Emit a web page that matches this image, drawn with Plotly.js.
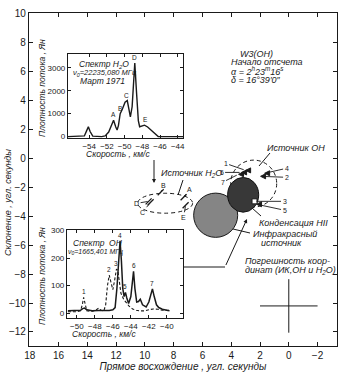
<!DOCTYPE html>
<html><head><meta charset="utf-8">
<script src="https://cdn.plot.ly/plotly-3.0.1.min.js"></script>
<style>html,body{margin:0;padding:0;background:#fff}#c{width:355px;height:376px}</style>
</head><body><div id="c"></div>
<script>
// ---- H2O spectrum (inset 1) ----
const h2oVel  = [-56.4,-55.0,-54.55,-54.3,-54.1,-53.9,-53.6,-52.6,-52.2,-51.8,-51.5,-51.25,-51.0,-50.85,-50.7,-50.5,-50.25,-49.95,-49.7,-49.5,-49.35,-49.15,-48.85,-48.65,-48.45,-48.3,-48.0,-47.75,-47.4,-47.0,-46.6,-46.2,-45.0,-43.4];
const h2oFlux = [0,0,30,250,430,220,20,0,30,200,520,710,420,290,480,1000,1200,1500,1570,1150,860,1300,3210,1900,700,430,480,500,420,270,110,0,0,0];
const h2oPeakLabels = ["A","B","C","D","E"];
const h2oPeakVel    = [-51.25,-50.55,-49.75,-48.85,-47.6];
const h2oPeakFlux   = [710,1000,1570,3210,500];

// ---- OH spectrum (inset 2) ----
const ohSolidVel  = [-51.0,-50.3,-49.6,-49.35,-49.15,-48.9,-48.3,-47.6,-47.0,-46.4,-46.0,-45.75,-45.55,-45.35,-45.2,-45.05,-44.9,-44.75,-44.6,-44.45,-44.25,-44.0,-43.85,-43.7,-43.55,-43.35,-43.15,-42.95,-42.7,-42.3,-42.0,-41.8,-41.6,-41.4,-41.15,-40.9,-40.5,-40.0,-39.7];
const ohSolidFlux = [8,9,10,16,18,12,8,9,8,9,12,20,90,200,263,190,90,60,75,55,35,60,120,152,90,40,42,50,30,22,40,70,88,60,30,20,14,10,8];
const ohDashVel   = [-51.0,-50.0,-49.6,-49.4,-49.25,-49.1,-48.9,-48.4,-47.9,-47.6,-47.3,-47.0,-46.8,-46.6,-46.4,-46.2,-46.0,-45.8,-45.6,-45.45,-45.3,-45.1,-44.8,-44.5,-44.2,-43.8,-43.4,-43.0,-42.5,-42.0,-41.5,-41.0,-40.5,-40.0,-39.7];
const ohDashFlux  = [5,5,8,30,57,30,8,6,10,18,10,8,30,100,138,110,85,120,160,155,110,72,50,38,25,15,10,8,8,12,15,14,10,10,10];
const ohPeakLabels = ["1","2","3","4","5","6","7"];
const ohPeakVel    = [-49.25,-46.4,-45.65,-45.2,-44.6,-43.7,-41.6];
const ohPeakFlux   = [57,138,160,263,75,152,88];

// ---- Map (main axes): maser spots, arcsec ----
const ohSpotNames = ["1","6","7","4","2","3","5"];
const ohSpotRA    = [3.0,3.28,3.49,1.68,1.96,2.38,2.24];
const ohSpotDec   = [-0.83,-0.97,-1.10,-1.03,-1.24,-2.97,-3.17];
const h2oSpotNames = ["A","B","C","D","E"];
const h2oSpotRA    = [7.31,8.90,9.60,9.74,7.17];
const h2oSpotDec   = [-2.69,-2.34,-3.03,-2.97,-3.24];
// sources: [RA centre, Dec centre, radius RA, radius Dec]
const ohSource   = [2.44,-1.74,1.6,1.62];
const h2oSource  = [8.59,-3.10,1.91,0.69];
const irSource   = [5.08,-3.93,1.53,1.53];
const hiiSource  = [3.17,-2.52,1.08,1.2];
// error of coordinates
const errCentre = [0,-10.2];
const errRA = 2.0, errDec = 1.85;

const xTicksMain = [18,16,14,12,10,8,6,4,2,0,-2];
const yTicksMain = [10,8,6,4,2,0,-2,-4,-6,-8,-10,-12];

// ---------- layout helpers ----------
const W=355,H=376,L=29,R=18,T=13,B=30;
const PX = x => (x-L)/(W-L-R);
const PY = y => (H-B-y)/(H-T-B);
const FF = '"Liberation Sans", Arial, sans-serif';
const ink = '#1a1a1a';

const traces = [
  {x:h2oVel,y:h2oFlux,xaxis:'x2',yaxis:'y2',mode:'lines',line:{color:ink,width:1.4},hoverinfo:'skip'},
  {x:ohDashVel,y:ohDashFlux,xaxis:'x3',yaxis:'y3',mode:'lines',line:{color:ink,width:1.1,dash:'3px,2px'},hoverinfo:'skip'},
  {x:ohSolidVel,y:ohSolidFlux,xaxis:'x3',yaxis:'y3',mode:'lines',line:{color:ink,width:1.5},hoverinfo:'skip'},
  {x:ohSpotRA,y:ohSpotDec,mode:'markers',marker:{symbol:ohSpotNames.map(n=>n==='3'?'square':'arrow-left'),size:5,color:ohSpotNames.map(n=>n==='3'?'#fff':ink),line:{color:ink,width:1}},hoverinfo:'skip'},
  {x:h2oSpotRA,y:h2oSpotDec,mode:'markers',marker:{symbol:'line-ne',size:6,line:{color:ink,width:1.3}},hoverinfo:'skip'},
  {x:[errCentre[0]],y:[errCentre[1]],mode:'markers',marker:{size:1,color:'rgba(0,0,0,0)'},
   error_x:{type:'data',array:[errRA],color:ink,thickness:1,width:0},
   error_y:{type:'data',array:[errDec],color:ink,thickness:1,width:0},hoverinfo:'skip'}
];

function ell(s,extra){return Object.assign({type:'circle',xref:'x',yref:'y',x0:s[0]+s[2],x1:s[0]-s[2],y0:s[1]-s[3],y1:s[1]+s[3],layer:'below'},extra);}
const shapes = [
  ell(ohSource,{line:{color:ink,width:1,dash:'4px,3px'}}),
  ell(h2oSource,{line:{color:ink,width:1,dash:'4px,3px'}}),
  ell(irSource,{fillcolor:'#858585',line:{color:ink,width:1}}),
  ell(hiiSource,{fillcolor:'#383838',line:{color:'#111',width:1}}),
  // connector from OH spectrum
  {type:'path',xref:'paper',yref:'paper',path:`M${PX(183)},${PY(267)} L${PX(225)},${PY(267)}`,line:{color:ink,width:1}},
  // leader lines
  {type:'line',xref:'paper',yref:'paper',x0:PX(183),y0:PY(180),x1:PX(178),y1:PY(195),line:{color:ink,width:1}},
  {type:'line',xref:'paper',yref:'paper',x0:PX(270),y0:PY(153),x1:PX(259),y1:PY(166),line:{color:ink,width:1}},
  {type:'line',xref:'paper',yref:'paper',x0:PX(261),y0:PY(216),x1:PX(252),y1:PY(208),line:{color:ink,width:1}},
  {type:'line',xref:'paper',yref:'paper',x0:PX(250),y0:PY(233),x1:PX(233),y1:PY(229),line:{color:ink,width:1}},
];

const ann = [];
function txt(t,x,y,o){ann.push(Object.assign({text:t,x:PX(x),y:PY(y),xref:'paper',yref:'paper',showarrow:false,xanchor:'left',yanchor:'middle',font:{family:FF,size:9,color:ink}},o||{}));}
function it(s){return '<i>'+s+'</i>';}
// main texts
txt(it('W3(OH)'),256,54,{xanchor:'center'});
txt(it('Начало отсчета'),229,62);
txt(it('α = 2<sup>h</sup>23<sup>m</sup>16<sup>s</sup>'),229,71);
txt(it('δ = 16°39′0″'),229,80);
txt(it('Источник OH'),265,148);
txt(it('Источник H<sub>2</sub>O'),159,173);
txt(it('Конденсация HII'),257,223);
txt(it('Инфракрасный'),251,234);
txt(it('источник'),259,243);
txt(it('Погрешность коор-'),243,261);
txt(it('динат (ИК,OH и H<sub>2</sub>O)'),243,270);
// inset texts
txt(it('Спектр H<sub>2</sub>O'),77,64,{font:{family:FF,size:8.5,color:ink}});
txt(it('ν<sub>0</sub>=22235,080 МГц'),71,73,{font:{family:FF,size:7.5,color:ink}});
txt(it('Март 1971'),78,81,{font:{family:FF,size:8.5,color:ink}});
txt(it('Спектр  OH'),71,243,{font:{family:FF,size:8.5,color:ink}});
txt(it('ν<sub>0</sub>=1665,401 МГц'),66,252,{font:{family:FF,size:7,color:ink}});
txt(it('Скорость , км/с'),118,154,{xanchor:'center',font:{family:FF,size:8.5,color:ink}});
txt(it('Скорость , км/с'),104,334,{xanchor:'center',font:{family:FF,size:8.5,color:ink}});
txt(it('Плотность потока , Ян'),42,88,{xanchor:'center',textangle:-90,font:{family:FF,size:8.5,color:ink}});
txt(it('Плотность потока , Ян'),42,276,{xanchor:'center',textangle:-90,font:{family:FF,size:8.5,color:ink}});
txt(it('Склонение , угл. секунды'),8,203,{xanchor:'center',textangle:-90});
// spectrum peak labels
h2oPeakLabels.forEach((t,i)=>ann.push({text:t,x:h2oPeakVel[i],y:h2oPeakFlux[i],xref:'x2',yref:'y2',showarrow:false,yanchor:'bottom',font:{family:FF,size:6.5,color:ink}}));
ohPeakLabels.forEach((t,i)=>ann.push({text:t,x:ohPeakVel[i],y:ohPeakFlux[i],xref:'x3',yref:'y3',showarrow:false,yanchor:'bottom',font:{family:FF,size:6.5,color:ink}}));
// spot labels with leader lines (label offsets in pixels)
const ohLabOff = [[-20,-7],[-20,0],[-16,8],[22,-5],[26,1],[30,0],[28,6]];
ohSpotNames.forEach((t,i)=>ann.push({text:t,x:ohSpotRA[i],y:ohSpotDec[i],xref:'x',yref:'y',ax:ohLabOff[i][0],ay:ohLabOff[i][1],showarrow:true,arrowhead:0,arrowwidth:0.9,arrowcolor:ink,standoff:2,font:{family:FF,size:7,color:ink}}));
const h2oLabOff = [[6,-8],[3,-7],[-8,10],[-12,2],[-2,12]];
h2oSpotNames.forEach((t,i)=>ann.push({text:t,x:h2oSpotRA[i],y:h2oSpotDec[i],xref:'x',yref:'y',ax:h2oLabOff[i][0],ay:h2oLabOff[i][1],showarrow:true,arrowhead:0,arrowwidth:0.9,arrowcolor:ink,standoff:1,font:{family:FF,size:7,color:ink}}));
// arrows with heads (paper)
function arrow(x0,y0,x1,y1){ann.push({x:PX(x1),y:PY(y1),ax:PX(x0),ay:PY(y0),xref:'paper',yref:'paper',axref:'paper',ayref:'paper',text:' ',showarrow:true,arrowhead:2,arrowsize:0.8,arrowwidth:1,arrowcolor:ink,font:{size:1}});}
arrow(154,158,154,183);
arrow(225,267,247,219);

const axBase = {showgrid:false,zeroline:false,showline:true,linecolor:ink,linewidth:1.1,ticks:'inside',ticklen:3,tickcolor:ink,mirror:'ticks',tickfont:{family:FF,size:8,color:ink}};
const layout = {
  width:W,height:H,margin:{l:L,r:R,t:T,b:B},paper_bgcolor:'#fff',plot_bgcolor:'#fff',showlegend:false,
  xaxis:Object.assign({},axBase,{domain:[0,1],range:[18.05,-3.35],tickvals:xTicksMain,ticklen:4,tickfont:{family:FF,size:10,color:ink},
    title:{text:it('Прямое восхождение , угл. секунды'),font:{family:FF,size:10,color:ink},standoff:2}}),
  yaxis:Object.assign({},axBase,{domain:[0,1],range:[-12.97,10.05],tickvals:yTicksMain,ticklen:4,tickfont:{family:FF,size:10,color:ink}}),
  xaxis2:Object.assign({},axBase,{domain:[PX(68),PX(183)],anchor:'y2',range:[-56.4,-43.4],tickvals:[-54,-52,-50,-48,-46,-44]}),
  yaxis2:Object.assign({},axBase,{domain:[PY(138),PY(54)],anchor:'x2',range:[-60,3600],tickvals:[0,1000,2000,3000]}),
  xaxis3:Object.assign({},axBase,{domain:[PX(67),PX(183)],anchor:'y3',range:[-51.1,-38.2],tickvals:[-50,-48,-46,-44,-42,-40]}),
  yaxis3:Object.assign({},axBase,{domain:[PY(318),PY(230)],anchor:'x3',range:[-18,302],tickvals:[0,100,200,300]}),
  shapes:shapes,annotations:ann
};
Plotly.newPlot('c',traces,layout,{staticPlot:true,displayModeBar:false});
</script></body></html>
